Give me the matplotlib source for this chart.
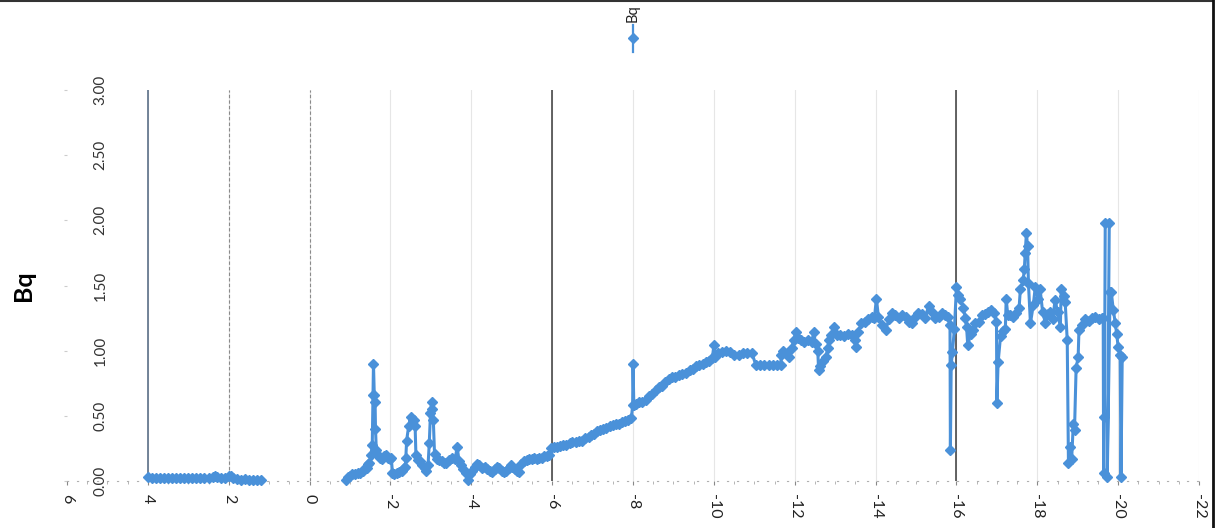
import numpy as np
import matplotlib
matplotlib.use("Agg")
import matplotlib.pyplot as plt
from matplotlib.lines import Line2D

# Depth (x) and activity (Bq) readings; NaN marks the gap with no samples
depth = [
    4.00, 3.90, 3.80, 3.70, 3.60, 3.50, 3.40, 3.30, 3.20, 3.10, 3.00, 2.90, 2.80,
    2.70, 2.60, 2.50, 2.40, 2.35, 2.30, 2.20, 2.10, 2.00, 1.95, 1.90, 1.80, 1.70,
    1.60, 1.50, 1.40, 1.30, 1.20,
    0.00,
    -0.91, -0.96, -1.01, -1.06, -1.12, -1.19, -1.25, -1.31, -1.36, -1.41, -1.45,
    -1.48, -1.52, -1.55, -1.57, -1.58, -1.60, -1.62, -1.63, -1.65, -1.68, -1.73,
    -1.78, -1.83, -1.88, -1.93, -1.98, -2.02, -2.05, -2.10, -2.15, -2.22, -2.28,
    -2.33, -2.37, -2.38, -2.40, -2.45, -2.50, -2.55, -2.59, -2.61, -2.63, -2.67,
    -2.72, -2.79, -2.85, -2.89, -2.93, -2.96, -2.99, -3.02, -3.04, -3.06, -3.09,
    -3.15, -3.21, -3.27, -3.33, -3.38, -3.45, -3.53, -3.60, -3.65, -3.70, -3.75,
    -3.80, -3.88, -3.92, -3.97, -4.02, -4.08, -4.14, -4.20, -4.27, -4.33, -4.40,
    -4.46, -4.52, -4.58, -4.64, -4.69, -4.75, -4.81, -4.86, -4.92, -4.97, -5.01,
    -5.07, -5.13, -5.19, -5.23, -5.30, -5.37, -5.43, -5.50, -5.56, -5.62, -5.68,
    -5.75, -5.81, -5.87, -5.93, -5.98, -6.05, -6.12, -6.20, -6.27, -6.35, -6.43,
    -6.50, -6.58, -6.66, -6.74, -6.82, -6.90, -6.97, -7.04, -7.11, -7.18, -7.26,
    -7.34, -7.42, -7.50, -7.58, -7.65, -7.72, -7.80, -7.88, -7.96, -7.99, -8.00,
    -8.02, -8.08, -8.15, -8.22, -8.32, -8.40, -8.48, -8.56, -8.64, -8.72, -8.80,
    -8.88, -8.96, -9.05, -9.14, -9.22, -9.31, -9.40, -9.48, -9.56, -9.64, -9.72,
    -9.80, -9.88, -9.96, -10.00, -10.03, -10.10, -10.20, -10.30, -10.40, -10.50,
    -10.62, -10.72, -10.82, -10.94, -11.04, -11.15, -11.25, -11.36, -11.46,
    -11.56, -11.65, -11.67, -11.72, -11.80, -11.85, -11.92, -11.98, -12.02,
    -12.08, -12.16, -12.24, -12.32, -12.42, -12.47, -12.52, -12.57, -12.59,
    -12.63, -12.70, -12.77, -12.82, -12.84, -12.90, -12.96, -13.04, -13.12,
    -13.22, -13.32, -13.41, -13.48, -13.51, -13.56, -13.65, -13.74, -13.82,
    -13.90, -13.97, -14.02, -14.07, -14.15, -14.25, -14.33, -14.40, -14.48,
    -14.57, -14.66, -14.74, -14.82, -14.89, -14.97, -15.06, -15.14, -15.22,
    -15.31, -15.40, -15.48, -15.56, -15.64, -15.72, -15.80, -15.84, -15.85,
    -15.87, -15.90, -15.95, -16.00, -16.05, -16.10, -16.17, -16.22, -16.25,
    -16.28, -16.35, -16.42, -16.47, -16.55, -16.62, -16.70, -16.78, -16.86,
    -16.94, -16.99, -17.00, -17.03, -17.09, -17.15, -17.21, -17.23, -17.27,
    -17.33, -17.40, -17.48, -17.55, -17.58, -17.65, -17.68, -17.70, -17.73,
    -17.76, -17.78, -17.83, -17.90, -17.95, -18.02, -18.07, -18.13, -18.20,
    -18.26, -18.32, -18.38, -18.44, -18.50, -18.57, -18.59, -18.65, -18.69,
    -18.74, -18.77, -18.81, -18.85, -18.89, -18.92, -18.96, -19.01, -19.03,
    -19.10, -19.19, -19.28, -19.36, -19.43, -19.52, -19.60, -19.63, -19.64,
    -19.66, -19.68, -19.78, -19.73, -19.80, -19.83, -19.88, -19.93, -19.96,
    -20.00, -20.05, -20.07, -20.10,
]
bq = [
    0.03, 0.025, 0.025, 0.025, 0.02, 0.02, 0.02, 0.02, 0.02, 0.02, 0.02, 0.02, 0.02,
    0.02, 0.02, 0.025, 0.03, 0.04, 0.03, 0.02, 0.02, 0.04, 0.035, 0.02, 0.015, 0.01,
    0.015, 0.01, 0.01, 0.01, 0.01,
    np.nan,
    0.01, 0.03, 0.04, 0.05, 0.05, 0.06, 0.06, 0.08, 0.10, 0.10, 0.13,
    0.14, 0.20, 0.28, 0.66, 0.90, 0.66, 0.61, 0.40, 0.24, 0.20, 0.18,
    0.17, 0.19, 0.20, 0.18, 0.17, 0.18, 0.06, 0.05, 0.06, 0.07, 0.08,
    0.10, 0.11, 0.18, 0.31, 0.42, 0.49, 0.47, 0.47, 0.42, 0.20, 0.16,
    0.15, 0.12, 0.10, 0.08, 0.12, 0.29, 0.52, 0.61, 0.55, 0.47, 0.21,
    0.17, 0.16, 0.15, 0.14, 0.14, 0.16, 0.18, 0.17, 0.26, 0.15, 0.12,
    0.09, 0.06, 0.01, 0.05, 0.08, 0.11, 0.13, 0.12, 0.10, 0.11, 0.09,
    0.08, 0.07, 0.09, 0.11, 0.10, 0.08, 0.07, 0.08, 0.10, 0.12, 0.11,
    0.09, 0.08, 0.07, 0.13, 0.15, 0.16, 0.17, 0.17, 0.18, 0.17, 0.18,
    0.18, 0.19, 0.19, 0.20, 0.25, 0.26, 0.26, 0.27, 0.28, 0.28, 0.29,
    0.30, 0.30, 0.31, 0.31, 0.33, 0.34, 0.35, 0.36, 0.38, 0.39, 0.40,
    0.41, 0.42, 0.43, 0.44, 0.44, 0.45, 0.46, 0.47, 0.48, 0.58, 0.90,
    0.58, 0.59, 0.61, 0.61, 0.62, 0.65, 0.67, 0.70, 0.72, 0.73, 0.76,
    0.78, 0.80, 0.80, 0.81, 0.82, 0.83, 0.85, 0.86, 0.88, 0.89, 0.90,
    0.91, 0.92, 0.94, 1.04, 0.95, 0.98, 0.99, 1.00, 0.99, 0.97,
    0.97, 0.98, 0.98, 0.98, 0.89, 0.89, 0.89, 0.89, 0.89,
    0.89, 0.89, 0.97, 1.00, 0.98, 0.95, 1.02, 1.08, 1.14,
    1.10, 1.08, 1.07, 1.08, 1.07, 1.14, 1.05, 1.00, 0.85,
    0.88, 0.92, 0.95, 1.02, 1.08, 1.12, 1.18, 1.12, 1.12,
    1.11, 1.13, 1.12, 1.08, 1.03, 1.14, 1.21, 1.22, 1.24,
    1.26, 1.25, 1.40, 1.26, 1.20, 1.16, 1.24, 1.29, 1.27,
    1.25, 1.27, 1.26, 1.22, 1.21, 1.26, 1.29, 1.28, 1.25,
    1.34, 1.30, 1.25, 1.26, 1.29, 1.27, 1.26, 1.20, 0.24,
    0.89, 0.99, 1.17, 1.49, 1.43, 1.40, 1.33, 1.25, 1.18,
    1.04, 1.13, 1.16, 1.21, 1.22, 1.27, 1.28, 1.30, 1.31,
    1.29, 1.22, 0.60, 0.91, 1.11, 1.15, 1.17, 1.40, 1.27,
    1.27, 1.26, 1.29, 1.33, 1.47, 1.54, 1.63, 1.75, 1.90,
    1.80, 1.52, 1.21, 1.35, 1.49, 1.40, 1.47, 1.30, 1.21,
    1.28, 1.30, 1.24, 1.39, 1.30, 1.18, 1.47, 1.42, 1.37,
    1.08, 0.14, 0.26, 0.17, 0.44, 0.39, 0.87, 0.95, 1.16,
    1.20, 1.24, 1.23, 1.25, 1.26, 1.24, 1.25, 1.25, 0.06,
    0.49, 1.98, 1.98, 0.03, 1.45, 1.45, 1.31, 1.21, 1.13,
    1.03, 0.97, 0.03, 0.95,
]

x_ticks = [6, 4, 2, 0, -2, -4, -6, -8, -10, -12, -14, -16, -18, -20, -22]
y_ticks = [0.0, 0.5, 1.0, 1.5, 2.0, 2.5, 3.0]
y_tick_labels = ["0.00", "0.50", "1.00", "1.50", "2.00", "2.50", "3.00"]
series_name = "Bq"

blue = "#4a91d9"
plt.rcParams["font.family"] = ["Lato", "DejaVu Sans"]

fig = plt.figure(figsize=(12.23, 5.28), dpi=100)
ax = fig.add_axes([0.0548, 0.0890, 0.9256, 0.7405])
ax.set_xlim(6, -22)
ax.set_ylim(0, 3)

# vertical reference lines
for xv in x_ticks[1:]:
    ax.axvline(xv, color="#e6e6e6", lw=0.8, zorder=0)
for xv in (2, 0):
    ax.axvline(xv, color="#8a8a8a", lw=0.8, ls=(0, (3, 2)), zorder=1)
for xv in (-6, -16):
    ax.axvline(xv, color="#3a3a3a", lw=1.1, zorder=1)
ax.axvline(4, color="#5c7088", lw=1.2, zorder=1)

ax.plot(depth, bq, color=blue, lw=2.2, marker="D", markersize=5.5,
        markerfacecolor=blue, markeredgecolor=blue, zorder=3, clip_on=False)

for side in ("top", "right", "left"):
    ax.spines[side].set_visible(False)
ax.spines["bottom"].set_color("#b0b0b0")
ax.spines["bottom"].set_linestyle((0, (1, 8)))

ax.set_xticks(x_ticks)
ax.set_xticklabels([str(v) for v in x_ticks], rotation=270, fontsize=11.5,
                   color="#222222")
ax.set_xticks(np.arange(-22, 6.01, 0.5), minor=True)
ax.tick_params(axis="x", which="major", length=3, color="#888888", pad=6)
ax.tick_params(axis="x", which="minor", length=2, color="#aaaaaa")

ax.set_yticks(y_ticks)
ax.set_yticklabels(y_tick_labels, rotation=90, fontsize=11, color="#333333",
                   ha="center", va="center")
ax.tick_params(axis="y", length=2, color="#cccccc", pad=-26)

ax.set_ylabel("Bq", fontsize=18, fontweight="bold", rotation=90)
ax.yaxis.set_label_coords(-0.028, 0.5)

# legend drawn vertically at the top
lx = 633 / 1223
fig.text(lx, 1 - 13 / 528, series_name, rotation=90, ha="center", va="center",
         fontsize=10.5, color="#222222")
fig.add_artist(Line2D([lx, lx], [1 - 25 / 528, 1 - 52 / 528], color=blue, lw=1.6))
fig.add_artist(Line2D([lx], [1 - 38 / 528], color=blue, marker="D",
                      markersize=5))

# page border lines
fig.add_artist(Line2D([0, 1213 / 1223], [0.998, 0.998], color="#333333", lw=1.5))
fig.add_artist(Line2D([1213 / 1223, 1213 / 1223], [0, 1], color="#111111", lw=2))

fig.savefig("out.png", dpi=100, facecolor="white")
